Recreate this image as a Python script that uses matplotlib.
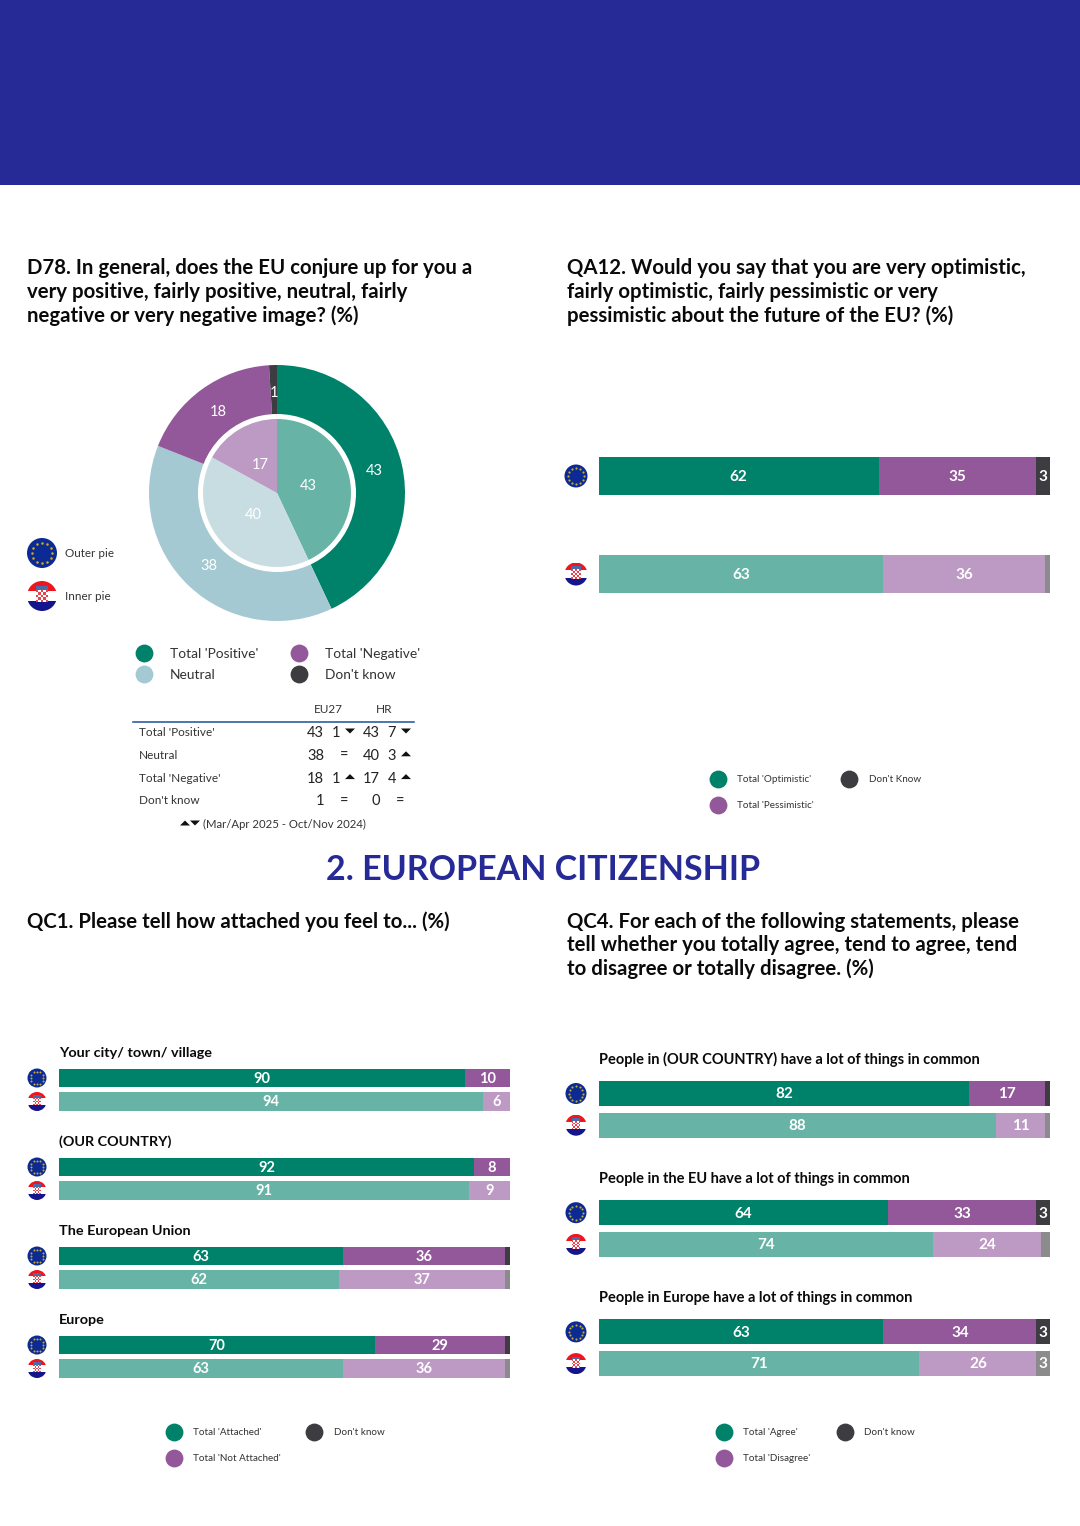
import numpy as np
import matplotlib
matplotlib.use("Agg")
import matplotlib.pyplot as plt
from matplotlib.patches import Circle, Rectangle, Polygon

plt.rcParams['font.family'] = ['Lato', 'DejaVu Sans']

W, H = 1080, 1526
# ---------- data ----------
pie_labels = ["Total 'Positive'", "Neutral", "Total 'Negative'", "Don't know"]
pie_outer = [43, 38, 18, 1]
pie_inner = [43, 40, 17, 0]
table_eu = ["43", "38", "18", "1"]
table_eu_delta = ["1", "=", "1", "="]
table_eu_dir = ["down", "", "up", ""]
table_hr = ["43", "40", "17", "0"]
table_hr_delta = ["7", "3", "4", "="]
table_hr_dir = ["down", "up", "up", ""]

qa12_eu = [62, 35, 3]
qa12_hr = [63, 36, 1]

qc1_items = ["Your city/ town/ village", "(OUR COUNTRY)", "The European Union", "Europe"]
qc1_eu_pos = [90, 92, 63, 70]
qc1_eu_neg = [10, 8, 36, 29]
qc1_eu_dk = [0, 0, 1, 1]
qc1_hr_pos = [94, 91, 62, 63]
qc1_hr_neg = [6, 9, 37, 36]
qc1_hr_dk = [0, 0, 1, 1]

qc4_items = ["People in (OUR COUNTRY) have a lot of things in common",
             "People in the EU have a lot of things in common",
             "People in Europe have a lot of things in common"]
qc4_eu_pos = [82, 64, 63]
qc4_eu_neg = [17, 33, 34]
qc4_eu_dk = [1, 3, 3]
qc4_hr_pos = [88, 74, 71]
qc4_hr_neg = [11, 24, 26]
qc4_hr_dk = [1, 2, 3]

# ---------- colours ----------
GREEN, LGREEN = '#00826a', '#67b4a6'
PURPLE, LPURPLE = '#93589a', '#bd9ac4'
DARK, GREY = '#3d3c40', '#8b8b8b'
TEAL, LTEAL = '#a5c9d2', '#c8dde2'
NAVY = '#262a96'
EU_BLUE = '#0b2a94'

fig = plt.figure(figsize=(W / 100, H / 100), dpi=100, facecolor='white')
ov = fig.add_axes([0, 0, 1, 1], zorder=5)
ov.set_xlim(0, W); ov.set_ylim(H, 0); ov.axis('off'); ov.patch.set_alpha(0)


def axes_px(x0, y0, x1, y1, **kw):
    return fig.add_axes([x0 / W, 1 - y1 / H, (x1 - x0) / W, (y1 - y0) / H], **kw)


def flag_eu(cx, cy, r):
    ov.add_patch(Circle((cx, cy), r, fc=EU_BLUE, ec='none'))
    a = np.arange(12) * np.pi / 6
    ov.scatter(cx + r * .68 * np.cos(a), cy + r * .68 * np.sin(a),
               s=r * .22, c='#c9ab30', marker='o', lw=0)


def flag_hr(cx, cy, r):
    clip = Circle((cx, cy), r, transform=ov.transData)
    for y, h, c in [(cy - r, r * .66, '#f0141e'), (cy - r * .34, r * .68, 'white'), (cy + r * .34, r * .66, '#14148c')]:
        p = Rectangle((cx - r, y), 2 * r, h, fc=c, ec='none')
        ov.add_patch(p); p.set_clip_path(clip)
    n = 5; s = r * .8 / n
    for i in range(n):
        for j in range(n):
            c = '#e8444c' if (i + j) % 2 == 0 else 'white'
            ov.add_patch(Rectangle((cx - n * s / 2 + i * s, cy - r * .4 + j * s), s, s, fc=c, ec='none'))
    ov.add_patch(Rectangle((cx - r * .42, cy - r * .66), r * .84, r * .26, fc='#4a6aa8', ec='none'))


def heading(x, y, lines, size=14.7):
    for i, t in enumerate(lines):
        ov.text(x, y + i * 23.8, t, fontsize=size, fontweight='bold', color='#0a0a0a', va='center', ha='left')


def legend(entries, size):
    for x, y, c, tx, t in entries:
        ov.scatter([x], [y], s=165, c=c, lw=0)
        ov.text(tx, y + 0.8, t, fontsize=size, color='#333333', va='center', ha='left')


def stacked(ax, y, h, vals, cols, fs, minlab=3):
    left = 0
    for v, c in zip(vals, cols):
        if v > 0:
            ax.barh(y, v, height=h, left=left, color=c, lw=0)
            if v >= minlab:
                ax.text(left + v / 2, y + 0.8, str(v), color='white', fontsize=fs, fontweight='bold',
                        ha='center', va='center')
        left += v


def bar_ax(x0, x1, y0, y1):
    ax = axes_px(x0, y0, x1, y1)
    ax.set_xlim(0, 100); ax.set_ylim(y1, y0); ax.axis('off')
    return ax


EU_C = [GREEN, PURPLE, DARK]
HR_C = [LGREEN, LPURPLE, GREY]

ov.add_patch(Rectangle((0, 0), W, 185, fc=NAVY, ec='none'))

heading(27, 268.5, ["D78. In general, does the EU conjure up for you a",
                    "very positive, fairly positive, neutral, fairly",
                    "negative or very negative image? (%)"])
heading(567, 268.5, ["QA12. Would you say that you are very optimistic,",
                     "fairly optimistic, fairly pessimistic or very",
                     "pessimistic about the future of the EU? (%)"])
heading(27, 921.5, ["QC1. Please tell how attached you feel to... (%)"])
heading(567, 921.5, ["QC4. For each of the following statements, please",
                     "tell whether you totally agree, tend to agree, tend",
                     "to disagree or totally disagree. (%)"])
ov.text(543.5, 870, "2. EUROPEAN CITIZENSHIP", fontsize=24.5, fontweight='bold', color=NAVY, ha='center', va='center')

R = 128
pa = axes_px(277 - R, 493 - R, 277 + R, 493 + R)
pa.set_xlim(-1, 1); pa.set_ylim(-1, 1); pa.axis('off')


def pct(p):
    return f"{round(p)}" if round(p) > 0 else ""


pa.pie(pie_outer, colors=[GREEN, TEAL, PURPLE, DARK], startangle=90, counterclock=False, radius=1,
       autopct=pct, pctdistance=100 / 128, textprops=dict(color='white', fontsize=10.5))
pa.add_patch(Circle((0, 0), 79 / 128, fc='white', ec='none', zorder=3))
_, _, t2 = pa.pie(pie_inner, colors=[LGREEN, LTEAL, LPURPLE, DARK], startangle=90, counterclock=False,
                  radius=74 / 128, autopct=pct, pctdistance=.44,
                  textprops=dict(color='white', fontsize=10.5),
                  wedgeprops=dict(zorder=4))
for t in t2:
    t.set_zorder(6)
pa.set_xlim(-1, 1); pa.set_ylim(-1, 1)

flag_eu(42, 553, 15); ov.text(65, 553.5, "Outer pie", fontsize=8.4, color='#333333', va='center')
flag_hr(42, 596, 15); ov.text(65, 596.5, "Inner pie", fontsize=8.4, color='#333333', va='center')

legend([(144, 653, GREEN, 170, pie_labels[0]), (144, 674, TEAL, 170, pie_labels[1]),
        (299, 653, PURPLE, 325, pie_labels[2]), (299, 674, DARK, 325, pie_labels[3])], 9.9)

ov.text(328, 709.5, "EU27", fontsize=8.5, color='#333333', ha='center', va='center')
ov.text(384, 709.5, "HR", fontsize=8.5, color='#333333', ha='center', va='center')
ov.plot([133, 414], [721.5, 721.5], color='#1f4e9c', lw=1.1)


def tri(x, y, d):
    s = 1 if d == 'up' else -1
    ov.add_patch(Polygon([(x - 5, y + 2.5 * s), (x + 5, y + 2.5 * s), (x, y - 2.5 * s)], fc='#111111', ec='none'))


for i, lab in enumerate(pie_labels):
    y = 732.5 + i * 22.8
    ov.text(139, y, lab, fontsize=8.5, color='#333333', va='center')
    ov.text(324, y + .5, table_eu[i], fontsize=10.5, color='#222222', ha='right', va='center')
    ov.text(380, y + .5, table_hr[i], fontsize=10.5, color='#222222', ha='right', va='center')
    ov.text(336 if table_eu_delta[i] != '=' else 344, y + .5, table_eu_delta[i], fontsize=10.5, color='#222222', ha='center', va='center')
    ov.text(392 if table_hr_dir[i] else 400, y + .5, table_hr_delta[i], fontsize=10.5, color='#222222', ha='center', va='center')
    if table_eu_dir[i]:
        tri(350, y - 1.5, table_eu_dir[i])
    if table_hr_dir[i]:
        tri(406, y - 1.5, table_hr_dir[i])
tri(185, 823, 'up'); tri(195, 823, 'down')
ov.text(203, 824, "(Mar/Apr 2025 - Oct/Nov 2024)", fontsize=8.2, color='#333333', va='center')

ax = bar_ax(599, 1050, 440, 610)
stacked(ax, 476, 38.5, qa12_eu, EU_C, 11)
stacked(ax, 574, 38.5, qa12_hr, HR_C, 11)
flag_eu(576, 476, 11.5); flag_hr(576, 574, 11.5)
legend([(718, 779, GREEN, 737, "Total 'Optimistic'"), (718, 805, PURPLE, 737, "Total 'Pessimistic'"),
        (849, 779, DARK, 869, "Don't Know")], 7.1)

ax = bar_ax(59, 510, 1040, 1390)
for i, item in enumerate(qc1_items):
    y = 1078 + i * 89
    ov.text(59, y - 25, item, fontsize=10.4, fontweight='bold', color='#0a0a0a', va='center')
    stacked(ax, y, 18.5, [qc1_eu_pos[i], qc1_eu_neg[i], qc1_eu_dk[i]], EU_C, 10.5)
    stacked(ax, y + 23.5, 18.5, [qc1_hr_pos[i], qc1_hr_neg[i], qc1_hr_dk[i]], HR_C, 10.5)
    flag_eu(37, y, 9.5); flag_hr(37, y + 23.5, 9.5)
legend([(174, 1432, GREEN, 193, "Total 'Attached'"), (174, 1458, PURPLE, 193, "Total 'Not Attached'"),
        (314, 1432, DARK, 334, "Don't know")], 7.1)

ax = bar_ax(599, 1050, 1040, 1390)
for i, item in enumerate(qc4_items):
    y = 1093.5 + i * 119.2
    ov.text(599, y - 34, item, fontsize=10.5, fontweight='bold', color='#0a0a0a', va='center')
    stacked(ax, y, 25, [qc4_eu_pos[i], qc4_eu_neg[i], qc4_eu_dk[i]], EU_C, 11)
    stacked(ax, y + 31.7, 25, [qc4_hr_pos[i], qc4_hr_neg[i], qc4_hr_dk[i]], HR_C, 11)
    flag_eu(576, y, 10.5); flag_hr(576, y + 31.7, 10.5)
legend([(724, 1432, GREEN, 743, "Total 'Agree'"), (724, 1458, PURPLE, 743, "Total 'Disagree'"),
        (845, 1432, DARK, 864, "Don't know")], 7.1)

fig.savefig("out.png", dpi=100, facecolor='white')
